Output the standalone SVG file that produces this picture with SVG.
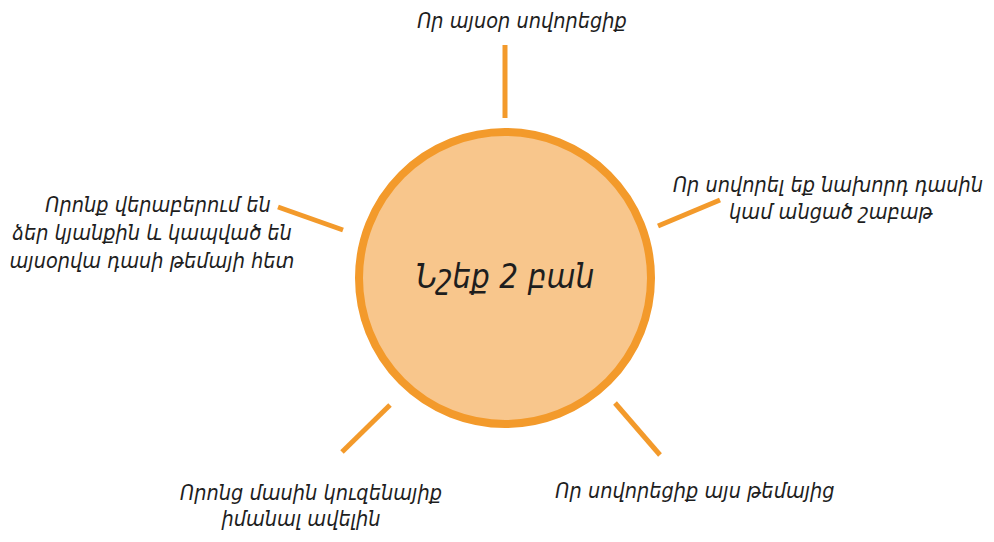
<svg xmlns="http://www.w3.org/2000/svg" width="994" height="542" viewBox="0 0 994 542">
<style>
.t{font-family:"DejaVu Sans Condensed","DejaVu Sans",sans-serif;font-style:italic;font-size:21.5px;fill:#1e1e1e;text-anchor:middle}
.c{font-size:33px}
.ln{stroke:#F39A2B;stroke-width:5;stroke-linecap:butt;fill:none}
</style>
<rect width="994" height="542" fill="#ffffff"/>
<g id="connectors">
<line class="ln" x1="505" y1="45" x2="505" y2="118"/>
<line class="ln" x1="658" y1="226" x2="720" y2="200"/>
<line class="ln" x1="278" y1="207" x2="343" y2="230"/>
<line class="ln" x1="390" y1="405" x2="342" y2="452"/>
<line class="ln" x1="615" y1="403" x2="660" y2="455"/>
</g>
<g id="center">
<circle cx="505" cy="278" r="146" fill="#F8C68C" stroke="#F39A2B" stroke-width="8"/>
<text class="t c" x="505" y="288">Նշեք 2 բան</text>
</g>
<g id="top">
<text class="t" x="522" y="28">Որ այսօր սովորեցիք</text>
</g>
<g id="upper-right">
<text class="t" x="828" y="192">Որ սովորել եք նախորդ դասին</text>
<text class="t" x="831" y="219">կամ անցած շաբաթ</text>
</g>
<g id="upper-left">
<text class="t" x="158" y="212">Որոնք վերաբերում են</text>
<text class="t" x="152" y="240">ձեր կյանքին և կապված են</text>
<text class="t" x="152" y="268">այսօրվա դասի թեմայի հետ</text>
</g>
<g id="lower-left">
<text class="t" x="311" y="500">Որոնց մասին կուզենայիք</text>
<text class="t" x="301" y="526">իմանալ ավելին</text>
</g>
<g id="lower-right">
<text class="t" x="695" y="498">Որ սովորեցիք այս թեմայից</text>
</g>
</svg>
